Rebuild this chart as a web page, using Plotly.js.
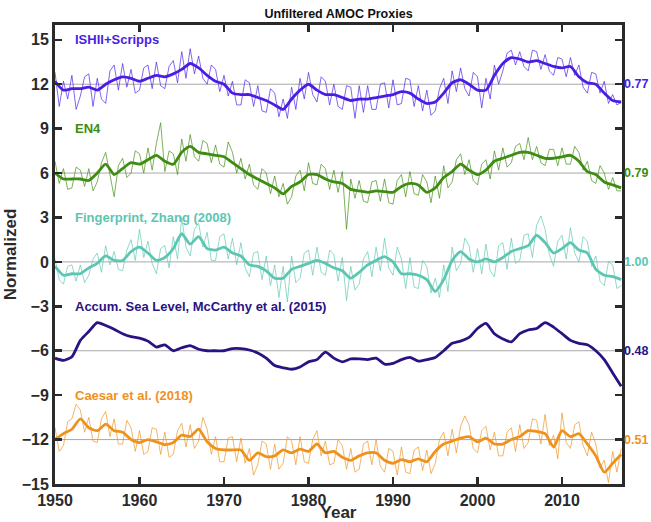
<!DOCTYPE html>
<html>
<head>
<meta charset="utf-8">
<script src="https://cdn.plot.ly/plotly-3.0.1.min.js"></script>
<style>html,body{margin:0;padding:0;background:#fff;}#chart{width:651px;height:522px;}</style>
</head>
<body>
<div id="chart"></div>
<script>
// ---- Data ----
const years = [];
for (let y = 1950; y <= 2017; y++) years.push(y);
const halfYears = [];
for (let i = 0; i <= 134; i++) halfYears.push(1950 + i * 0.5);

const seriesNames = ["ISHII+Scripps", "EN4", "Fingerprint, Zhang (2008)", "Accum. Sea Level, McCarthy et al. (2015)", "Caesar et al. (2018)"];
const correlations = ["0.77", "0.79", "1.00", "0.48", "0.51"];
const baselines = [12, 6, 0, -6, -12];
const labelLevels = [15, 9, 3, -3, -9];
const colors = ["#4a1de4", "#3e8c12", "#5cc6b2", "#2b1282", "#ef911d"];

// smoothed (annual) values
const ishiiSmooth = [12.2,11.6,11.7,11.7,11.8,11.6,12.0,12.3,12.5,12.4,12.2,12.4,12.6,12.5,12.7,13.0,13.4,13.1,12.6,12.2,12.0,11.4,11.3,11.3,11.1,10.9,10.6,10.3,11.0,11.6,12.0,11.6,11.3,11.3,11.1,10.9,11.0,11.0,11.1,11.2,11.3,11.5,11.4,11.0,10.7,10.8,11.4,12.1,12.3,12.0,11.6,11.6,12.6,13.4,13.8,13.7,13.5,13.6,13.4,13.2,13.1,13.2,12.5,12.1,12.0,11.4,10.9,10.8];
const en4Smooth = [6.0,5.6,5.6,5.6,5.5,6.0,6.6,5.9,6.3,6.7,6.6,6.9,7.2,6.8,6.6,7.4,7.8,7.4,7.3,7.2,7.1,6.7,6.3,5.9,5.6,5.3,5.0,4.6,5.1,5.4,5.9,5.9,5.6,5.4,5.3,4.9,4.8,4.7,4.8,4.75,4.7,5.1,5.3,5.2,4.7,5.0,5.7,6.1,6.6,6.2,5.9,6.2,6.8,7.0,7.2,7.4,7.4,7.2,7.0,7.0,7.1,7.2,6.8,6.1,5.9,5.4,5.2,5.0];
const fingerSmooth = [-0.3,-0.9,-0.8,-0.8,-0.4,-0.1,0.4,0.1,0.1,0.7,1.0,0.6,0.1,0.3,0.9,1.9,1.2,1.7,0.9,0.8,1.0,0.6,0.4,-0.2,-0.3,-0.6,-1.1,-1.1,-0.5,-0.3,-0.1,0.1,-0.1,-0.4,-0.6,-1.1,-0.7,-0.2,0.1,0.35,0.0,-0.8,-0.8,-0.9,-1.2,-2.0,-1.2,0.1,0.7,0.2,0.0,0.2,0.0,0.3,0.7,0.9,1.1,1.8,1.3,0.6,0.9,1.3,0.8,0.6,-0.5,-0.9,-1.0,-1.2];
const accumSmooth = [-6.5,-6.65,-6.4,-5.3,-4.7,-4.1,-4.3,-4.55,-4.85,-5.05,-5.15,-5.35,-5.75,-5.6,-6.0,-5.8,-5.65,-5.9,-6.0,-6.0,-6.0,-5.85,-5.85,-5.95,-6.15,-6.5,-7.0,-7.15,-7.25,-7.1,-6.75,-6.6,-6.1,-6.5,-6.75,-6.55,-6.55,-6.6,-6.5,-6.9,-6.85,-6.6,-6.45,-6.7,-6.6,-6.45,-6.0,-5.5,-5.35,-5.1,-4.5,-4.15,-4.85,-5.2,-5.4,-4.85,-4.6,-4.5,-4.1,-4.4,-4.85,-5.3,-5.5,-5.6,-6.0,-6.6,-7.5,-8.4];
const caesarSmooth = [-12.0,-11.6,-11.3,-10.6,-11.2,-11.4,-10.95,-11.4,-11.5,-12.0,-12.2,-12.0,-12.15,-12.35,-12.2,-11.7,-11.8,-11.3,-12.15,-12.6,-12.7,-12.7,-12.7,-13.4,-12.9,-13.15,-13.1,-12.7,-12.9,-12.65,-12.8,-12.3,-12.9,-12.8,-13.2,-13.4,-13.1,-12.9,-12.9,-13.4,-13.6,-13.35,-13.5,-13.3,-13.5,-12.8,-12.3,-12.1,-11.9,-11.8,-12.15,-11.9,-12.3,-12.3,-12.0,-11.8,-11.4,-11.45,-11.6,-12.5,-11.4,-11.8,-11.6,-12.3,-13.1,-14.2,-13.6,-13.0];

// unfiltered (half-yearly) values
const ishiiRaw = [12.8,10.5,12.2,11.0,12.6,10.3,11.2,12.5,12.7,10.5,12.4,11.0,10.7,12.9,13.3,11.6,13.4,11.8,13.0,11.4,11.6,13.1,13.3,11.7,13.5,11.9,11.7,13.2,13.6,12.1,14.2,12.4,14.4,12.7,13.9,12.4,12.0,13.3,13.0,11.5,12.6,11.2,12.2,10.6,10.6,12.3,12.1,10.5,11.9,10.2,10.1,11.7,11.4,9.8,11.0,9.7,11.8,10.3,12.4,11.0,12.8,11.3,10.8,12.5,12.2,10.6,12.0,10.5,10.3,11.9,11.8,9.7,11.9,10.1,11.9,10.3,10.3,12.0,12.1,10.4,12.3,10.6,10.7,12.4,12.3,10.5,11.9,10.2,11.6,9.9,10.2,11.7,12.4,10.7,12.9,11.5,13.1,11.7,11.2,12.8,12.5,10.4,12.4,11.0,13.3,12.0,12.9,14.1,14.3,13.3,14.2,13.2,12.9,14.3,14.2,13.0,14.0,12.9,12.6,13.8,13.7,12.5,13.8,12.6,13.3,11.8,11.4,12.8,12.7,11.4,12.2,10.7,11.3,10.6,10.8];
const en4Raw = [6.8,5.3,6.3,4.9,5.0,6.4,6.2,5.1,6.3,4.8,5.4,6.7,7.4,6.0,4.4,6.5,7.0,5.7,6.0,7.5,7.3,6.0,7.7,6.2,8.0,9.4,6.1,7.5,7.3,5.9,8.3,6.8,8.6,7.1,6.8,8.2,8.0,6.7,7.9,6.6,6.4,8.1,7.4,6.0,7.0,5.6,6.6,5.2,4.9,6.3,6.0,4.6,5.8,4.4,5.3,3.9,4.4,5.8,6.2,4.8,6.7,5.3,5.2,6.6,6.3,4.9,6.2,4.7,6.1,2.2,5.6,4.3,5.5,4.1,4.0,5.4,5.5,4.1,5.6,4.0,3.9,5.5,5.9,4.4,6.1,4.6,4.5,5.9,5.4,4.0,5.8,4.3,6.5,5.0,5.4,6.9,7.3,5.9,6.9,5.5,5.2,6.6,6.9,5.6,7.5,6.2,7.7,6.4,6.7,7.8,8.0,6.9,8.4,6.9,7.8,6.7,6.5,7.6,7.6,6.5,7.7,6.6,6.6,7.8,7.4,6.2,6.8,5.5,5.3,6.5,6.0,4.9,5.7,4.8,4.8];
const fingerRaw = [0.2,-1.2,-1.5,-0.3,-0.2,-1.3,-0.2,-1.4,-0.9,0.2,0.6,-0.7,1.1,-0.2,0.7,-0.5,-0.6,0.8,1.5,0.1,2.2,0.3,1.4,-0.1,-0.8,0.9,1.1,-0.4,1.7,0.2,3.0,1.0,0.4,2.2,2.6,1.0,2.0,0.1,0.1,1.7,1.9,0.2,1.6,-0.2,1.3,-0.4,-1.0,0.6,0.7,-1.2,0.4,-1.6,-0.2,-2.4,-0.3,-2.7,0.4,-1.4,-1.1,0.6,0.8,-0.9,1.0,-0.7,-0.9,0.8,0.5,-1.3,0.3,-2.6,-0.3,-1.9,-1.5,0.2,0.7,-1.0,1.0,-0.6,1.6,-0.4,-0.9,1.0,0.2,-1.8,0.3,-1.7,-1.8,0.1,-0.3,-2.1,-1.1,-2.4,-0.2,-2.0,1.0,-0.6,-0.1,1.6,1.1,-0.7,0.9,-0.8,1.2,-0.6,-1.0,1.1,1.3,-0.5,1.6,-0.1,0.1,1.8,1.9,0.3,2.5,3.1,2.2,0.5,-0.3,1.4,1.8,0.2,2.3,0.6,0.0,1.7,1.4,-0.3,0.4,-1.3,-1.6,0.0,-0.2,-1.8,-1.6];
const caesarRaw = [-11.2,-12.8,-12.4,-10.8,-10.6,-9.6,-10.0,-11.5,-10.5,-12.1,-12.2,-10.6,-10.1,-11.8,-10.6,-12.3,-12.3,-10.7,-11.2,-12.8,-11.4,-13.0,-12.8,-11.2,-11.3,-13.0,-11.5,-13.2,-13.0,-11.4,-10.9,-12.5,-11.0,-12.6,-12.1,-10.5,-11.3,-13.0,-11.8,-13.5,-13.5,-11.9,-11.8,-13.5,-11.9,-13.6,-12.6,-14.4,-13.7,-12.1,-12.3,-14.0,-12.3,-14.0,-13.6,-11.8,-12.1,-13.7,-11.8,-13.5,-13.6,-12.0,-11.4,-13.1,-12.1,-13.7,-13.6,-12.0,-12.4,-14.0,-12.6,-14.2,-14.0,-12.3,-12.1,-13.7,-12.0,-13.8,-14.2,-12.6,-12.8,-14.4,-12.5,-14.2,-14.3,-12.7,-12.5,-14.1,-12.7,-14.3,-13.6,-12.0,-11.5,-13.1,-11.3,-12.9,-11.1,-10.4,-11.0,-12.6,-12.9,-11.4,-11.1,-12.7,-11.5,-13.1,-13.1,-11.5,-11.2,-12.8,-11.0,-12.6,-12.2,-10.6,-10.7,-12.3,-10.3,-12.4,-11.7,-13.3,-10.2,-12.2,-12.6,-11.0,-10.8,-12.4,-13.1,-11.5,-12.3,-13.9,-13.4,-14.9,-12.8,-14.2,-12.6];

const rawSeries = [ishiiRaw, en4Raw, fingerRaw, null, caesarRaw];
const smoothSeries = [ishiiSmooth, en4Smooth, fingerSmooth, accumSmooth, caesarSmooth];

const xTicks = [1950, 1960, 1970, 1980, 1990, 2000, 2010];

// ---- Build traces ----
const traces = [];
for (let k = 0; k < 5; k++) {
  if (rawSeries[k]) {
    traces.push({x: halfYears, y: rawSeries[k], type: 'scatter', mode: 'lines',
      line: {color: colors[k], width: 0.8}, opacity: 0.85, hoverinfo: 'skip', showlegend: false});
  }
  traces.push({x: years, y: smoothSeries[k], type: 'scatter', mode: 'lines', name: seriesNames[k],
    line: {color: colors[k], width: 2.8, shape: 'spline', smoothing: 0.6}, showlegend: false});
}

const FONT = '"Liberation Sans", Arial, Helvetica, sans-serif';
const shapes = baselines.map(b => ({type: 'line', xref: 'paper', x0: 0, x1: 1, yref: 'y', y0: b, y1: b,
  line: {color: '#a8a8a8', width: 1}, layer: 'below'}));

const annotations = [];
for (let k = 0; k < 5; k++) {
  annotations.push({xref: 'x', yref: 'y', x: 1952.1, y: labelLevels[k], text: '<b>' + seriesNames[k] + '</b>',
    showarrow: false, xanchor: 'left', yanchor: 'middle', font: {family: FONT, size: 13, color: colors[k]}});
  annotations.push({xref: 'paper', yref: 'y', x: 1, xshift: 1, y: baselines[k], text: '<b>' + correlations[k] + '</b>',
    showarrow: false, xanchor: 'left', yanchor: 'middle', borderpad: 0, font: {family: FONT, size: 12.5, color: colors[k]}});
}

const layout = {
  width: 651, height: 522,
  margin: {l: 55, r: 29, t: 25, b: 38},
  paper_bgcolor: '#fff', plot_bgcolor: '#fff',
  font: {family: FONT, color: '#2a2a2a'},
  title: {text: '<b>Unfiltered AMOC Proxies</b>', font: {family: FONT, size: 12.5, color: '#111'},
    x: 0.5, xref: 'paper', y: 0.973, yref: 'container', xanchor: 'center', yanchor: 'middle'},
  xaxis: {range: [1950, 2017.1], tickvals: xTicks, ticks: 'inside', ticklen: 7, tickwidth: 2.5, tickcolor: '#2a2a2a',
    showline: true, linewidth: 3, linecolor: '#2a2a2a', mirror: 'ticks', showgrid: false, zeroline: false,
    tickfont: {family: FONT, size: 16, color: '#2a2a2a', weight: 'bold'},
    title: {text: '<b>Year</b>', font: {family: FONT, size: 17, color: '#2a2a2a'}, standoff: 2}},
  yaxis: {range: [-15, 16], dtick: 3, tick0: 0, ticks: 'inside', ticklen: 7, tickwidth: 2.5, tickcolor: '#2a2a2a',
    showline: true, linewidth: 3, linecolor: '#2a2a2a', mirror: 'ticks', showgrid: false, zeroline: false,
    tickfont: {family: FONT, size: 16, color: '#2a2a2a', weight: 'bold'},
    title: {text: '<b>Normalized</b>', font: {family: FONT, size: 17, color: '#2a2a2a'}, standoff: 1}},
  shapes: shapes,
  annotations: annotations,
  showlegend: false
};

Plotly.newPlot('chart', traces, layout, {displayModeBar: false, staticPlot: true});
</script>
</body>
</html>
